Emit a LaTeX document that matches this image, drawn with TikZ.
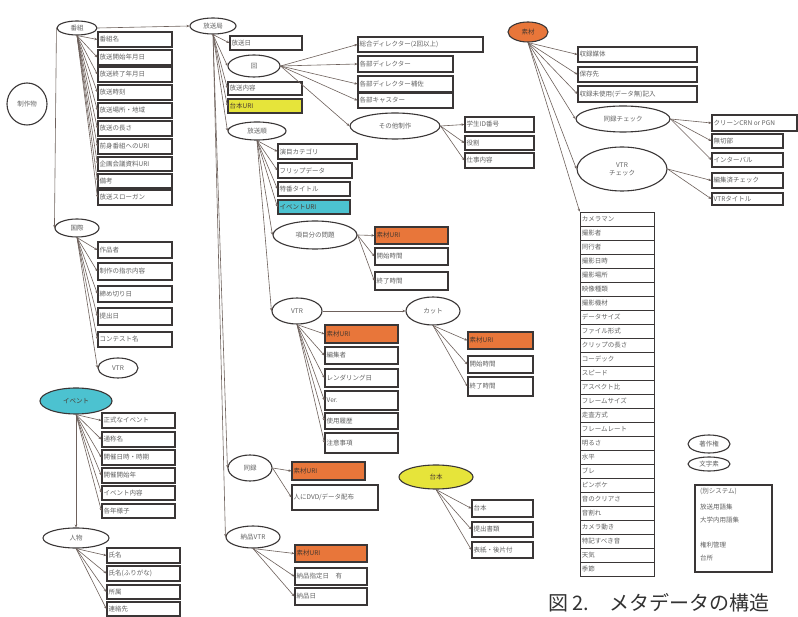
\documentclass[tikz,border=0pt]{standalone}
\usepackage{fontspec}
\setmainfont{Noto Sans CJK JP}
\usetikzlibrary{shapes.geometric,fit,arrows.meta}
\definecolor{lc}{HTML}{6E615C}
\definecolor{bc}{HTML}{3A3636}
\definecolor{tc}{HTML}{626262}
\definecolor{dtc}{HTML}{4A3A30}
\definecolor{orng}{HTML}{E8763A}
\definecolor{yel}{HTML}{E6E43A}
\definecolor{cyn}{HTML}{4CC2D0}
\newcommand\bx[5][]{\node[bxs,#1,fit={(#3) (#4)}] (#2) {}; \node[lbl] at ([xshift=2pt]#2.west) {#5};}
\newcommand\el[6][]{\node[ell,#1,minimum width=#4pt,minimum height=#5pt] (#2) at (#3) {#6};}
\begin{document}
\begin{tikzpicture}[x=1pt,y=-1pt,
  bxs/.style={draw=bc, line width=1.1pt, fill=white, inner sep=0pt},
  lstbox/.style={line width=0.7pt},
  lbl/.style={anchor=west, text=tc, inner sep=0pt, font=\fontsize{6.5}{7}\selectfont},
  ell/.style={ellipse, draw=bc, line width=1.1pt, fill=white, inner sep=0pt, text=tc, align=center, font=\fontsize{6.5}{8}\selectfont},
  conn/.style={draw=lc, line width=0.6pt, -{Stealth[length=3pt,width=2.5pt]}}]
\fill[white] (0,0) rectangle (798,617);
\useasboundingbox (0,0) rectangle (798,617);

% ellipses
\el{seisaku}{27,104}{40}{42}{制作物}
\el{bangumi}{77,28}{40}{14}{番組}
\el{hkyoku}{213,26}{46}{16}{放送局}
\el{kokusai}{77,228}{44}{18}{国際}
\el{vtrA}{118,368}{40}{20}{VTR}
\el[fill=cyn,text=dtc]{event}{76,401}{72}{26}{イベント}
\el{jinbutsu}{76,538}{66}{20}{人物}
\el{kai}{254,66}{52}{22}{回}
\el{hjun}{257,131}{58}{18}{放送順}
\el{sonota}{395,126}{90}{26}{その他制作}
\el{koumoku}{315,235}{84}{28}{項目分の問題}
\el{vtrB}{297,311}{50}{26}{VTR}
\el{cut}{433,311}{54}{28}{カット}
\el{douroku}{250,468}{44}{26}{同録}
\el{nouhin}{253,537}{54}{22}{納品VTR}
\el[fill=yel,text=dtc]{daihon}{436,477}{74}{24}{台本}
\el[fill=orng,text=dtc]{sozai}{528,32}{40}{20}{素材}
\el{drchk}{623,119}{94}{26}{同録チェック}
\el{vtrchk}{622,169}{90}{44}{VTR\\チェック}
\el{chosaku}{709,444}{42}{18}{著作権}
\el{moji}{709,464}{42}{14}{文字素}

% 番組
\bx{b1}{98,32}{172,47}{番組名}
\bx{b2}{98,50}{172,65}{放送開始年月日}
\bx{b3}{98,67}{172,82}{放送終了年月日}
\bx{b4}{98,85}{172,100}{放送時刻}
\bx{b5}{98,103}{172,118}{放送場所・地域}
\bx{b6}{98,121}{172,136}{放送の長さ}
\bx{b7}{98,139}{172,154}{前身番組へのURI}
\bx{b8}{98,157}{172,171}{企画会議資料URI}
\bx{b9}{98,174}{172,188}{備考}
\bx{b10}{98,190}{172,205}{放送スローガン}
% 国際
\bx{k1}{98,242}{172,258}{作品者}
\bx{k2}{98,263}{172,280}{制作の指示内容}
\bx{k3}{98,286}{172,302}{締め切り日}
\bx{k4}{98,308}{172,325}{提出日}
\bx{k5}{98,332}{172,347}{コンテスト名}
% イベント
\bx{e1}{102,413}{175,428}{正式なイベント}
\bx{e2}{102,432}{175,447}{通称名}
\bx{e3}{102,450}{175,465}{開催日時・時期}
\bx{e4}{102,468}{175,483}{開催開始年}
\bx{e5}{102,486}{175,500}{イベント内容}
\bx{e6}{102,504}{175,518}{各年様子}
% 人物
\bx{p1}{107,548}{180,563}{氏名}
\bx{p2}{107,566}{180,581}{氏名(ふりがな)}
\bx{p3}{107,585}{180,599}{所属}
\bx{p4}{107,602}{180,616}{連絡先}
% 放送局
\bx{h1}{230,36}{302,50}{放送日}
\bx{h3}{228,82}{302,95}{放送内容}
\bx[fill=yel]{h4}{228,99}{302,113}{\color{dtc}台本URI}
% 回
\bx{c1}{358,37}{483,52}{総合ディレクター(2回以上)}
\bx{c2}{358,56}{453,72}{各部ディレクター}
\bx{c3}{358,76}{453,92}{各部ディレクター補佐}
\bx{c4}{358,93}{453,108}{各部キャスター}
\bx{o1}{465,117}{534,132}{学生ID番号}
\bx{o2}{465,136}{534,150}{役割}
\bx{o3}{465,153}{534,168}{仕事内容}
% 放送順
\bx{j1}{278,144}{357,159}{演目カテゴリ}
\bx{j2}{278,163}{352,178}{フリップデータ}
\bx{j3}{278,182}{350,196}{特番タイトル}
\bx[fill=cyn]{j4}{278,200}{350,214}{\color{dtc}イベントURI}
\bx[fill=orng]{m1}{375,227}{448,244}{\color{dtc}素材URI}
\bx{m2}{375,248}{448,265}{開始時間}
\bx{m3}{375,272}{448,290}{終了時間}
\bx[fill=orng]{t1}{468,332}{533,349}{\color{dtc}素材URI}
\bx{t2}{468,356}{533,373}{開始時間}
\bx{t3}{468,377}{533,396}{終了時間}
\bx[fill=orng]{v1}{325,325}{398,343}{\color{dtc}素材URI}
\bx{v2}{325,347}{398,364}{編集者}
\bx{v3}{325,369}{398,387}{レンダリング日}
\bx{v4}{325,391}{398,410}{Ver.}
\bx{v5}{325,413}{398,429}{使用履歴}
\bx{v6}{325,433}{398,453}{注意事項}
% 同録・納品VTR
\bx[fill=orng]{d1}{292,462}{365,480}{\color{dtc}素材URI}
\bx{d2}{292,485}{378,510}{人にDVD/データ配布}
\bx[fill=orng]{n1}{295,545}{367,562}{\color{dtc}素材URI}
\bx{n2}{295,568}{367,585}{納品指定日　有}
\bx{n3}{295,588}{367,605}{納品日}
% 台本
\bx{s1}{472,500}{533,517}{台本}
\bx{s2}{472,522}{533,537}{提出書類}
\bx{s3}{472,542}{533,558}{表紙・後片付}
% 素材
\bx{z1}{578,47}{697,62}{収録媒体}
\bx{z2}{578,67}{697,82}{保存先}
\bx{z3}{578,86}{697,102}{収録未使用(データ無)記入}
\bx{q1}{712,115}{797,131}{クリーンCRN or PGN}
\bx{q2}{712,134}{783,148}{無切部}
\bx{q3}{712,153}{783,167}{インターバル}
\bx{r1}{712,173}{783,188}{編集済チェック}
\bx{r2}{712,193}{783,205}{VTRタイトル}
% list
\foreach \t [count=\i from 0] in {カメラマン,撮影者,同行者,撮影日時,撮影場所,映像種類,撮影機材,データサイズ,ファイル形式,クリップの長さ,コーデック,スピード,アスペクト比,フレームサイズ,走査方式,フレームレート,明るさ,水平,ブレ,ピンボケ,音のクリアさ,音割れ,カメラ動き,特記すべき音,天気,季節}{
  \pgfmathsetmacro\ya{212+\i*14}
  \pgfmathsetmacro\yb{226+\i*14}
  \bx[lstbox]{L\i}{580,\ya}{654,\yb}{\t}
}
% system box
\node[bxs, fit={(695,485) (772,572)}] (sysbox) {};
\node[lbl] (sy1) at (700,491) {(別システム)};
\node[lbl] (sy2) at (700,507) {放送用語集};
\node[lbl] (sy3) at (700,520) {大学内用語集};
\node[lbl] (sy4) at (700,545) {権利管理};
\node[lbl] (sy5) at (700,558) {台所};
% caption
\node[anchor=west, inner sep=0pt, text=black!80, font=\fontsize{20}{22}\selectfont] (cap) at (548,603) {図 2.　メタデータの構造};

% connectors
\draw[conn] (bangumi.east) -- (hkyoku.west);
\draw[conn] (bangumi.west) -- (kokusai.west);
\foreach \n in {b1,b2,b3,b4,b5,b6,b7,b8,b9,b10} \draw[conn] (bangumi.south) -- (\n.west);
\foreach \n in {k1,k2,k3,k4,k5,vtrA} \draw[conn] (kokusai.south) -- (\n.west);
\foreach \n in {e1,e2,e3,e4,e5,e6} \draw[conn] (event.south) -- (\n.west);
\draw[conn] (event.south) -- (jinbutsu.north);
\foreach \n in {p1,p2,p3,p4} \draw[conn] (jinbutsu.south) -- (\n.west);
\foreach \n in {h1,kai,h3,h4,hjun,douroku,nouhin} \draw[conn] (hkyoku.south) -- (\n.west);
\foreach \n in {c1,c2,c3,c4,sonota} \draw[conn] (kai.east) -- (\n.west);
\foreach \n in {o1,o2,o3} \draw[conn] (sonota.east) -- (\n.west);
\foreach \n in {j1,j2,j3,j4,koumoku,vtrB} \draw[conn] (hjun.south) -- (\n.west);
\foreach \n in {m1,m2,m3} \draw[conn] (koumoku.east) -- (\n.west);
\draw[conn] (vtrB.east) -- (cut.west);
\foreach \n in {v1,v2,v3,v4,v5,v6} \draw[conn] (vtrB.south) -- (\n.west);
\foreach \n in {t1,t2,t3} \draw[conn] (cut.south) -- (\n.west);
\foreach \n in {d1,d2} \draw[conn] (douroku.east) -- (\n.west);
\foreach \n in {n1,n2,n3} \draw[conn] (nouhin.south) -- (\n.west);
\foreach \n in {s1,s2,s3} \draw[conn] (daihon.south) -- (\n.west);
\foreach \n in {z1,z2,z3,drchk,vtrchk} \draw[conn] (sozai.south) -- (\n.west);
\draw[conn] (sozai.south) -- (L0.north west);
\foreach \n in {q1,q2,q3} \draw[conn] (drchk.east) -- (\n.west);
\foreach \n in {r1,r2} \draw[conn] (vtrchk.east) -- (\n.west);
\end{tikzpicture}
\end{document}
